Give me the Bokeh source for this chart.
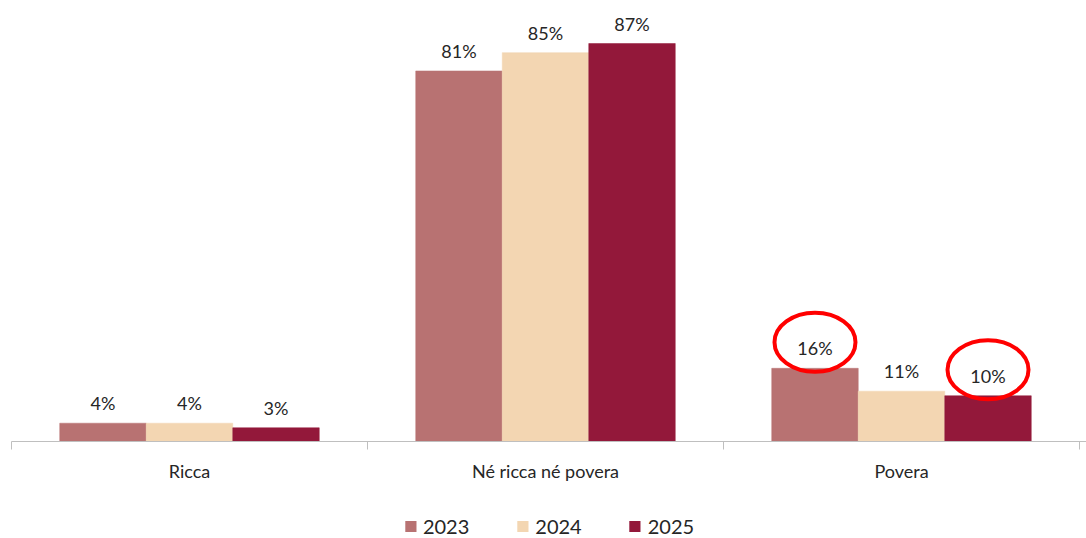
from bokeh.plotting import figure
from bokeh.layouts import column
from bokeh.models import (Range1d, LinearAxis, FixedTicker, LabelSet, ColumnDataSource,
                          Legend, LegendItem)
from bokeh.core.properties import value
from bokeh.embed import file_html
from bokeh.resources import INLINE

categories = ["Ricca", "Né ricca né povera", "Povera"]
years = ["2023", "2024", "2025"]
values_2023 = [4, 81, 16]
values_2024 = [4, 85, 11]
values_2025 = [3, 87, 10]
highlighted = [("Povera", "2023"), ("Povera", "2025")]

colors = {"2023": "#B87272", "2024": "#F3D6B2", "2025": "#93183A"}
series = {"2023": values_2023, "2024": values_2024, "2025": values_2025}

FONT = "Lato"
TXT = "#262626"
W, H = 1086, 538
LEFT = 11
FRAME_H = 441
BOTTOM = 50
Y_END = 96.4
PX_PER_UNIT = FRAME_H / Y_END
UNIT_PX = 356.0
X_END = (W - LEFT) / UNIT_PX
BAR_W = 0.243
offsets = {"2023": -BAR_W, "2024": 0.0, "2025": BAR_W}

p = figure(frame_width=W - LEFT, frame_height=FRAME_H, output_backend="svg",
           toolbar_location=None,
           x_range=Range1d(0, X_END), y_range=Range1d(0, Y_END),
           x_axis_location=None, y_axis_location=None,
           min_border_left=LEFT, min_border_right=0, min_border_top=0,
           min_border_bottom=BOTTOM)
p.outline_line_color = None
p.grid.visible = False
p.background_fill_color = "white"
p.border_fill_color = "white"

for yr in years:
    xs = [i + 0.5 + offsets[yr] for i in range(len(categories))]
    src = ColumnDataSource(dict(x=xs, top=series[yr],
                                lab=[f"{v}%" for v in series[yr]]))
    p.vbar(x="x", top="top", bottom=0, width=BAR_W, source=src,
           fill_color=colors[yr], line_color=colors[yr], line_width=0.5)
    labels = LabelSet(x="x", y="top", text="lab", source=src, y_offset=20,
                      text_align="center", text_baseline="middle",
                      text_font=value(FONT), text_font_size=value("18px"),
                      text_color=TXT)
    p.add_layout(labels)

# highlight ellipses
hx, hy = [], []
for cat, yr in highlighted:
    i = categories.index(cat)
    hx.append(i + 0.5 + offsets[yr])
    hy.append(series[yr][i] + 26 / PX_PER_UNIT)
p.ellipse(x=hx, y=hy, width=81, height=59, width_units="screen",
          height_units="screen", fill_color=None, line_color="#FF0000",
          line_width=4)

# axis with boundary ticks
ax1 = LinearAxis(ticker=FixedTicker(ticks=list(range(len(categories) + 1))),
                 major_label_overrides={i: "" for i in range(len(categories) + 1)},
                 major_label_text_font_size="1px", major_label_standoff=0,
                 axis_line_color="#BFBFBF", major_tick_line_color="#BFBFBF",
                 major_tick_in=0, major_tick_out=8, minor_tick_line_color=None)
p.add_layout(ax1, "below")

centers = [i + 0.5 for i in range(len(categories))]
ax2 = LinearAxis(ticker=FixedTicker(ticks=centers),
                 major_label_overrides={c: n for c, n in zip(centers, categories)},
                 major_label_text_font=FONT, major_label_text_font_size="18px",
                 major_label_text_color=TXT, major_label_standoff=4,
                 axis_line_color=None, major_tick_line_color=None,
                 minor_tick_line_color=None)
p.add_layout(ax2, "below")

# legend in its own strip below the chart (zero-height placeholder bars as legend keys)
lf = figure(width=W, height=H - FRAME_H - BOTTOM, output_backend="svg",
            toolbar_location=None, x_range=Range1d(0, 1), y_range=Range1d(0, 1),
            x_axis_location=None, y_axis_location=None,
            min_border_left=0, min_border_right=0, min_border_top=0,
            min_border_bottom=0)
lf.outline_line_color = None
lf.grid.visible = False
items = []
for yr in years:
    r = lf.vbar(x=[0.5], top=[0], bottom=[0], width=0.1,
                fill_color=colors[yr], line_color=None)
    items.append(LegendItem(label=yr, renderers=[r]))
legend = Legend(items=items, orientation="horizontal", location="bottom_center",
                glyph_width=14, glyph_height=14, label_standoff=6, spacing=46,
                label_text_font=FONT, label_text_font_size="20px",
                label_text_color=TXT, border_line_color=None,
                background_fill_alpha=0, margin=0, padding=0)
lf.add_layout(legend)

layout = column(p, lf, spacing=0)
open("out.html", "w").write(file_html(layout, INLINE))
